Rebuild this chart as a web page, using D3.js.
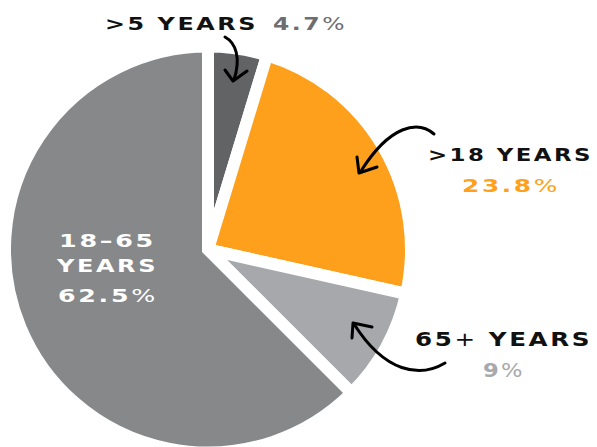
<!DOCTYPE html>
<html>
<head>
<meta charset="utf-8">
<script src="https://cdn.jsdelivr.net/npm/d3@7"></script>
<style>
  html, body { margin: 0; padding: 0; background: #ffffff; }
  svg { display: block; }
  text { font-family: "DejaVu Sans", sans-serif; font-weight: bold; letter-spacing: 2px; }
</style>
</head>
<body>
<svg id="chart" width="597" height="447"></svg>
<script>
// ---- data ----
const categories = [">5 YEARS", ">18 YEARS", "65+ YEARS", "18-65 YEARS"];
const values = [4.7, 23.8, 9, 62.5];
const sliceColors = ["#626365", "#ffa01c", "#a6a8ab", "#87888a"];
const percentColors = ["#6d6e71", "#ffa01c", "#a7a9ac", "#ffffff"];

const svg = d3.select("#chart");
const cx = 208, cy = 249.5, r = 203;

const pie = d3.pie().sort(null).value(d => d).startAngle(0).endAngle(2 * Math.PI);
const arc = d3.arc().innerRadius(0).outerRadius(r);
const arcs = pie(values);

const g = svg.append("g").attr("transform", `translate(${cx},${cy})`);
g.selectAll("path.slice")
  .data(arcs)
  .join("path")
  .attr("class", "slice")
  .attr("d", arc)
  .attr("fill", (d, i) => sliceColors[i])
  .attr("stroke", "#ffffff")
  .attr("stroke-width", 12)
  .attr("stroke-linejoin", "miter");

const pct = v => `${v}`;

function label(x, y, parts, width, size) {
  const t = svg.append("text")
    .attr("x", x).attr("y", y)
    .attr("font-size", size)
    .attr("textLength", width)
    .attr("lengthAdjust", "spacingAndGlyphs");
  parts.forEach(p => {
    t.append("tspan").text(p.text).attr("fill", p.color).attr("font-weight", p.weight || "bold");
  });
  return t;
}

// >5 YEARS 4.7%
label(105, 29.5, [{text: categories[0], color: "#111111"}], 153, 18.5);
label(273, 29.5, [{text: pct(values[0]), color: percentColors[0]}, {text: "%", color: percentColors[0], weight: "normal"}], 74, 18.5);

// >18 YEARS 23.8%
label(428, 161, [{text: categories[1], color: "#111111"}], 165, 18.5);
label(462, 192, [{text: pct(values[1]), color: percentColors[1]}, {text: "%", color: percentColors[1], weight: "normal"}], 98, 18.5);

// 65+ YEARS 9%
label(415, 346, [{text: "65", color: "#111111"}, {text: "+", color: "#111111", weight: "normal"}, {text: " YEARS", color: "#111111"}], 177, 19);
label(483, 377, [{text: pct(values[2]), color: percentColors[2]}, {text: "%", color: percentColors[2], weight: "normal"}], 42, 19);

// inside 18-65 YEARS 62.5%
label(59, 247, [{text: "18–65", color: "#ffffff"}], 97, 18.5);
label(57, 272, [{text: "YEARS", color: "#ffffff"}], 101, 18.5);
label(58, 302, [{text: pct(values[3]), color: percentColors[3]}, {text: "%", color: percentColors[3], weight: "normal"}], 100, 18.5);

// ---- hand-drawn arrows (annotations) ----
const arrows = [
  "M225,37 C236,43 241,58 234,80",
  "M225,70 L233,81 L247,71",
  "M434,134 C418,120 390,125 361,171",
  "M357,157 L359,173 L377,167",
  "M445,363 C420,378 385,373 354,324",
  "M372,327 L353,323 L352,338"
];
svg.append("g").selectAll("path")
  .data(arrows)
  .join("path")
  .attr("d", d => d)
  .attr("fill", "none")
  .attr("stroke", "#000000")
  .attr("stroke-width", 3)
  .attr("stroke-linecap", "round")
  .attr("stroke-linejoin", "round");
</script>
</body>
</html>
